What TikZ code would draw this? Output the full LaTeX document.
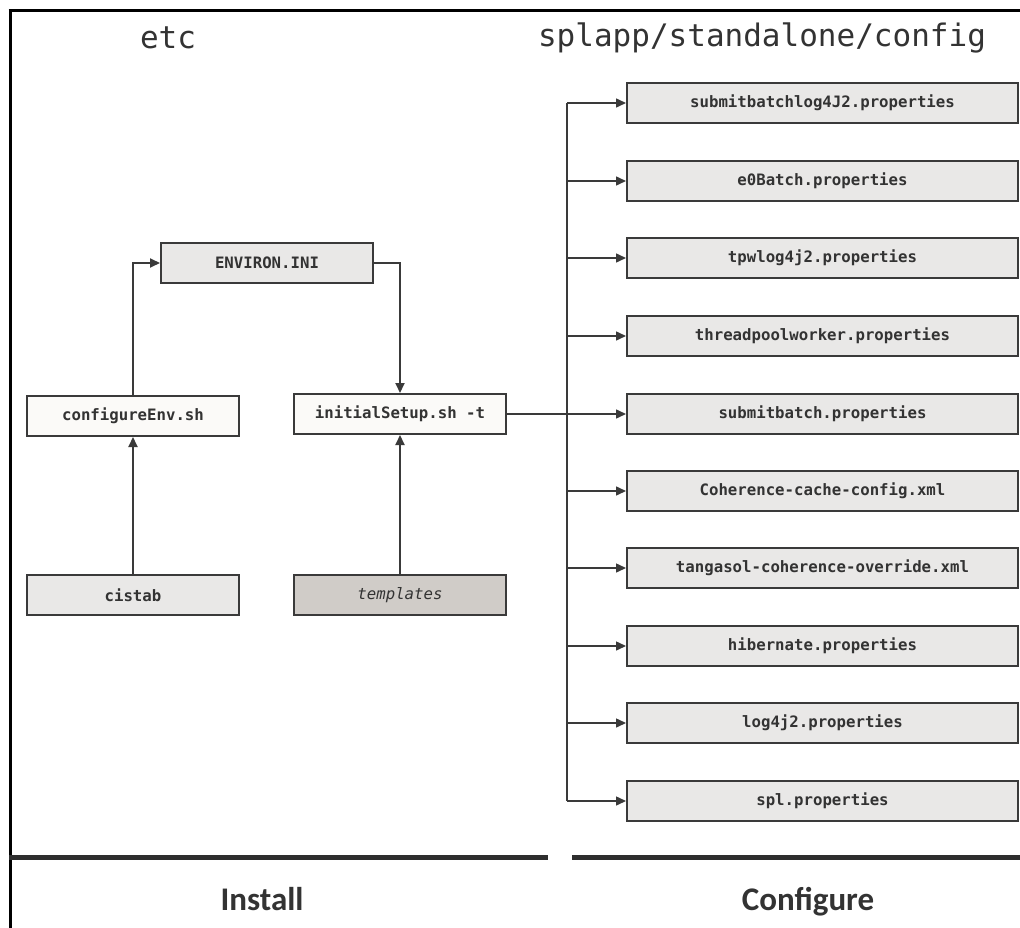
\documentclass[tikz,border=0pt]{standalone}
\usepackage{fontspec}
\setmainfont{Carlito}
\setmonofont{DejaVu Sans Mono}
\usetikzlibrary{arrows.meta}
\definecolor{boxline}{HTML}{3A3A3A}
\definecolor{textc}{HTML}{333333}
\definecolor{fillA}{HTML}{E9E8E7}
\definecolor{fillW}{HTML}{FBFAF8}
\definecolor{fillT}{HTML}{D0CCC8}
\begin{document}
\begin{tikzpicture}[x=1pt,y=-1pt,
  box/.style={draw=boxline, line width=2pt, minimum height=40pt, inner sep=0pt,
    font=\ttfamily\bfseries\fontsize{15.7}{18}\selectfont, text=textc},
  leftbox/.style={box, minimum width=212pt},
  rbox/.style={box, fill=fillA, minimum width=391pt},
  conn/.style={draw=boxline, line width=2pt},
  thinconn/.style={draw=boxline, line width=1.5pt},
  tip/.style={-{Triangle[length=10pt,width=9pt]}},
  title/.style={font=\ttfamily\fontsize{31}{36}\selectfont, text=textc},
  phase/.style={font=\bfseries\fontsize{33}{38}\selectfont, text=textc, anchor=base},
  sep/.style={draw=textc!90!black, line width=5pt}
]
\useasboundingbox (0,0) rectangle (1020,928);
\fill[white] (0,0) rectangle (1020,928);
% frame
\draw[line width=3pt] (8.5,11) -- (1020,11);
\draw[line width=3pt] (10,9.5) -- (10,928);

% titles
\node[title] (tetc) at (168,38) {etc};
\node[title] (tcfg) at (762,38) {splapp/standalone/config};

% left side boxes
\node[leftbox, fill=fillA] (env) at (267,263) {ENVIRON.INI};
\node[leftbox, fill=fillW] (cfg) at (133,416) {configureEnv.sh};
\node[leftbox, fill=fillW] (init) at (400,414) {initialSetup.sh -t};
\node[leftbox, fill=fillA] (cis) at (133,595) {cistab};
\node[leftbox, fill=fillT, font=\ttfamily\itshape\fontsize{15.7}{18}\selectfont] (tmpl) at (400,595) {templates};

\draw[conn,tip] (cfg.north) |- (env.west);
\draw[conn,tip] (env.east) -| (init.north);
\draw[conn,tip] (cis.north) -- (cfg.south);
\draw[conn,tip] (tmpl.north) -- (init.south);

% right side boxes
\node[rbox] (r1) at (822.5,103) {submitbatchlog4J2.properties};
\node[rbox] (r2) at (822.5,181) {e0Batch.properties};
\node[rbox] (r3) at (822.5,258) {tpwlog4j2.properties};
\node[rbox] (r4) at (822.5,336) {threadpoolworker.properties};
\node[rbox] (r5) at (822.5,414) {submitbatch.properties};
\node[rbox] (r6) at (822.5,491) {Coherence-cache-config.xml};
\node[rbox] (r7) at (822.5,568) {tangasol-coherence-override.xml};
\node[rbox] (r8) at (822.5,646) {hibernate.properties};
\node[rbox] (r9) at (822.5,723) {log4j2.properties};
\node[rbox] (r10) at (822.5,801) {spl.properties};

\coordinate (bt) at (567,103);
\coordinate (bb) at (567,801);
\draw[conn] (bt) -- (bb);
\draw[conn, line width=2.5pt] (init.east) -- (bt |- init.east);
\foreach \r in {r1,r2,r3,r4,r5,r6,r7,r8,r9,r10}{
  \draw[thinconn,tip] (bt |- \r.west) -- (\r.west);
}

% bottom separators and phase labels
\coordinate (s1a) at (9,857);
\coordinate (s1b) at (548,857);
\coordinate (s2a) at (572,857);
\coordinate (s2b) at (1020,857);
\draw[sep] (s1a) -- (s1b);
\draw[sep] (s2a) -- (s2b);
\node[phase] (inst) at (262,910) {Install};
\node[phase] (conf) at (808,910) {Configure};
\end{tikzpicture}
\end{document}
